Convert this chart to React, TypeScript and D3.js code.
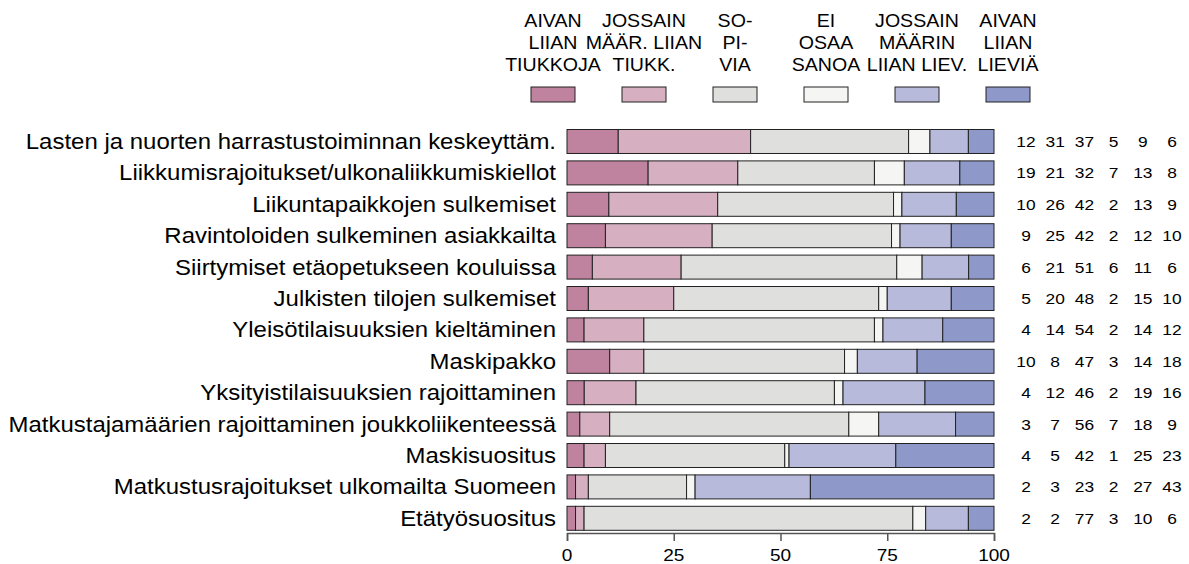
import { useRef, useEffect } from "react";
import * as d3 from "d3";

const categories = [
  "Lasten ja nuorten harrastustoiminnan keskeyttäm.",
  "Liikkumisrajoitukset/ulkonaliikkumiskiellot",
  "Liikuntapaikkojen sulkemiset",
  "Ravintoloiden sulkeminen asiakkailta",
  "Siirtymiset etäopetukseen kouluissa",
  "Julkisten tilojen sulkemiset",
  "Yleisötilaisuuksien kieltäminen",
  "Maskipakko",
  "Yksityistilaisuuksien rajoittaminen",
  "Matkustajamäärien rajoittaminen joukkoliikenteessä",
  "Maskisuositus",
  "Matkustusrajoitukset ulkomailta Suomeen",
  "Etätyösuositus",
];

const aivanTiukkoja = [12, 19, 10, 9, 6, 5, 4, 10, 4, 3, 4, 2, 2];
const jossainTiukkoja = [31, 21, 26, 25, 21, 20, 14, 8, 12, 7, 5, 3, 2];
const sopivia = [37, 32, 42, 42, 51, 48, 54, 47, 46, 56, 42, 23, 77];
const eiOsaa = [5, 7, 2, 2, 6, 2, 2, 3, 2, 7, 1, 2, 3];
const jossainLievia = [9, 13, 13, 12, 11, 15, 14, 14, 19, 18, 25, 27, 10];
const aivanLievia = [6, 8, 9, 10, 6, 10, 12, 18, 16, 9, 23, 43, 6];

const series = [aivanTiukkoja, jossainTiukkoja, sopivia, eiOsaa, jossainLievia, aivanLievia];
const legendLabels = [
  ["AIVAN", "LIIAN", "TIUKKOJA"],
  ["JOSSAIN", "MÄÄR. LIIAN", "TIUKK."],
  ["SO-", "PI-", "VIA"],
  ["EI", "OSAA", "SANOA"],
  ["JOSSAIN", "MÄÄRIN", "LIIAN LIEV."],
  ["AIVAN", "LIIAN", "LIEVIÄ"],
];
const colors = ["#c0839f", "#d6afc1", "#dfdfdd", "#f5f6f4", "#b7badb", "#8e99c9"];
const xTicks = [0, 25, 50, 75, 100];

export default function App() {
  const ref = useRef(null);

  useEffect(() => {
    const svg = d3.select(ref.current);
    svg.selectAll("*").remove();

    const width = 1189;
    const height = 564;
    const font = "'Liberation Sans', Arial, sans-serif";
    const sx = 1.12; // the text in the picture is a bit wider than plain Arial

    function label(px, py, str, size, anchor) {
      svg.append("text")
        .attr("transform", `translate(${px},${py}) scale(${sx},1)`)
        .attr("dy", "0.35em")
        .attr("text-anchor", anchor)
        .attr("font-family", font)
        .attr("font-size", size + "px")
        .attr("fill", "#000")
        .text(str);
    }

    const x = d3.scaleLinear().domain([0, 100]).range([567, 994]);
    const y = d3.scaleBand()
      .domain(categories)
      .range([129.5, 530.3])
      .paddingInner(0.236)
      .paddingOuter(0);

    // rows
    categories.forEach((cat, i) => {
      const vals = series.map(s => s[i]);
      const total = d3.sum(vals);
      let acc = 0;
      const g = svg.append("g");
      vals.forEach((v, k) => {
        const x0 = (acc / total) * 100;
        acc += v;
        const x1 = (acc / total) * 100;
        g.append("rect")
          .attr("x", x(x0))
          .attr("y", y(cat))
          .attr("width", x(x1) - x(x0))
          .attr("height", y.bandwidth())
          .attr("fill", colors[k])
          .attr("stroke", "#222")
          .attr("stroke-width", 1);
      });

      const cy = y(cat) + y.bandwidth() / 2;
      label(556, cy, cat, 21.4, "end");

      vals.forEach((v, k) => {
        label(1026 + k * 29.2, cy, v, 15.5, "middle");
      });
    });

    // x axis
    const axis = svg.append("g")
      .attr("transform", "translate(0,533)")
      .call(d3.axisBottom(x).tickValues(xTicks).tickSize(8).tickFormat(() => ""));
    axis.select(".domain").attr("stroke", "#555").attr("stroke-width", 1.5);
    axis.selectAll(".tick line").attr("stroke", "#555").attr("stroke-width", 1.5);
    xTicks.forEach(t => label(x(t), 555, t, 17, "middle"));

    // legend
    const lx = d3.scaleLinear().domain([0, 5]).range([553, 1008]);
    legendLabels.forEach((lines, k) => {
      const cx = lx(k);
      lines.forEach((ln, j) => {
        label(cx, 21 + j * 22, ln, 17.5, "middle");
      });
      svg.append("rect")
        .attr("x", cx - 22)
        .attr("y", 87)
        .attr("width", 44)
        .attr("height", 15)
        .attr("fill", colors[k])
        .attr("stroke", "#222")
        .attr("stroke-width", 1);
    });

    svg.attr("width", width).attr("height", height);
  }, []);

  return (
    <svg ref={ref} style={{ position: "absolute", left: 0, top: 0, background: "#fff" }}></svg>
  );
}
